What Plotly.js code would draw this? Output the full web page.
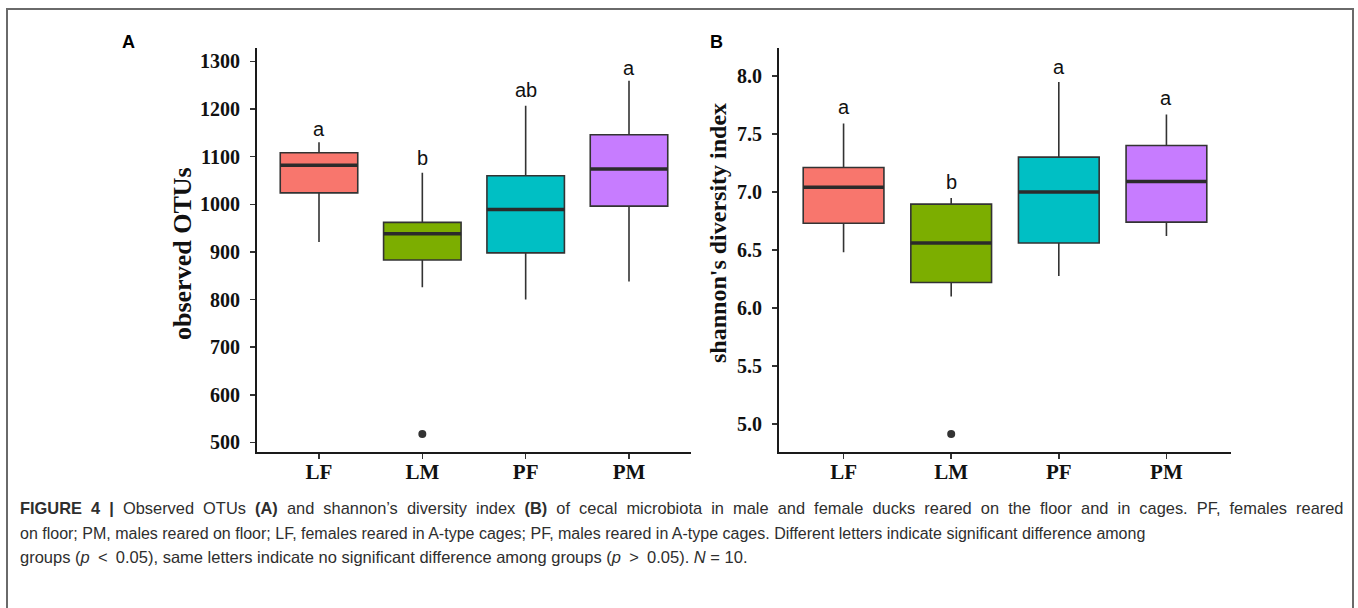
<!DOCTYPE html>
<html>
<head>
<meta charset="utf-8">
<script src="https://cdn.plot.ly/plotly-3.0.1.min.js"></script>
<style>
html,body{margin:0;padding:0;background:#fff;}
#chart{width:1358px;height:608px;}
</style>
</head>
<body>
<div id="chart"></div>
<script>
// ---- data ----
const groups = ['LF', 'LM', 'PF', 'PM'];
const groupColors = ['#F8766D', '#7CAE00', '#00BFC4', '#C77CFF'];

// Panel A: observed OTUs
const otuLower  = [921, 826, 800, 838];
const otuQ1     = [1024, 883, 898, 996];
const otuMedian = [1082, 938, 989, 1074];
const otuQ3     = [1108, 962, 1060, 1146];
const otuUpper  = [1130, 1066, 1207, 1259];
const otuOutlierGroup = [1];
const otuOutlierValue = [518];
const otuLetters = ['a', 'b', 'ab', 'a'];
const otuLetterPos = [1157, 1097, 1239, 1287];

// Panel B: shannon's diversity index
const shLower  = [6.48, 6.10, 6.275, 6.62];
const shQ1     = [6.73, 6.22, 6.56, 6.74];
const shMedian = [7.04, 6.56, 7.00, 7.09];
const shQ3     = [7.21, 6.895, 7.30, 7.40];
const shUpper  = [7.59, 6.947, 7.948, 7.668];
const shOutlierGroup = [1];
const shOutlierValue = [4.915];
const shLetters = ['a', 'b', 'a', 'a'];
const shLetterPos = [7.73, 7.09, 8.08, 7.81];

const otuTicks = [500, 600, 700, 800, 900, 1000, 1100, 1200, 1300];
const shTicks = [5.0, 5.5, 6.0, 6.5, 7.0, 7.5, 8.0];
const shTickText = ['5.0', '5.5', '6.0', '6.5', '7.0', '7.5', '8.0'];

const captionLines = [
  "<b>FIGURE 4 |</b> Observed OTUs <b>(A)</b> and shannon’s diversity index <b>(B)</b> of cecal microbiota in male and female ducks reared on the floor and in cages. PF, females reared",
  "on floor; PM, males reared on floor; LF, females reared in A-type cages; PF, males reared in A-type cages. Different letters indicate significant difference among",
  "groups (<i>p</i>\u2002&lt;\u20020.05), same letters indicate no significant difference among groups (<i>p</i>\u2002&gt;\u20020.05). <i>N</i> = 10."
];
const captionJustified = [true, false, false];

// ---- build ----
const W = 1358, H = 608;
const px = v => v / W;
const py = v => 1 - v / H;
const boxW = 0.75;
const lineCol = '#333333';

const traces = [];
function addPanel(xa, ya, lower, q1, med, q3, upper, oGroup, oVal) {
  groups.forEach((g, i) => {
    traces.push({
      type: 'box', xaxis: xa, yaxis: ya, name: g,
      x: [i], q1: [q1[i]], median: [med[i]], q3: [q3[i]],
      lowerfence: [lower[i]], upperfence: [upper[i]],
      width: boxW, whiskerwidth: 0, boxpoints: false,
      fillcolor: groupColors[i],
      line: {color: lineCol, width: 1.6},
      hoverinfo: 'skip', showlegend: false
    });
    traces.push({
      type: 'scatter', mode: 'lines', xaxis: xa, yaxis: ya,
      x: [i - boxW / 2, i + boxW / 2], y: [med[i], med[i]],
      line: {color: '#2b2b2b', width: 3.6},
      hoverinfo: 'skip', showlegend: false
    });
  });
  traces.push({
    type: 'scatter', mode: 'markers', xaxis: xa, yaxis: ya,
    x: oGroup, y: oVal,
    marker: {color: '#333333', size: 8},
    hoverinfo: 'skip', showlegend: false
  });
}
addPanel('x', 'y', otuLower, otuQ1, otuMedian, otuQ3, otuUpper, otuOutlierGroup, otuOutlierValue);
addPanel('x2', 'y2', shLower, shQ1, shMedian, shQ3, shUpper, shOutlierGroup, shOutlierValue);

const tickFont = {family: 'Liberation Serif, Times New Roman, serif', size: 20, color: '#111'};
const xBase = {
  range: [-0.6, 3.6], tickvals: [0, 1, 2, 3], ticktext: groups,
  showline: true, linecolor: '#1a1a1a', linewidth: 2,
  ticks: 'outside', ticklen: 5, tickwidth: 1.5, tickcolor: '#333',
  showgrid: false, zeroline: false, fixedrange: true,
  ticklabelstandoff: -5,
  tickfont: Object.assign({}, tickFont, {size: 21, weight: 'bold'})
};
const yBase = {
  showline: true, linecolor: '#1a1a1a', linewidth: 2,
  ticks: 'outside', ticklen: 5, tickwidth: 1.5, tickcolor: '#333',
  showgrid: false, zeroline: false, fixedrange: true,
  ticklabelstandoff: 6,
  tickfont: Object.assign({}, tickFont, {weight: 'bold'})
};

const yDom = [py(452), py(48)];
const layout = {
  width: W, height: H,
  margin: {l: 0, r: 0, t: 0, b: 0},
  paper_bgcolor: '#ffffff', plot_bgcolor: '#ffffff',
  showlegend: false, boxmode: 'overlay',
  xaxis: Object.assign({}, xBase, {domain: [px(257), px(691)], anchor: 'y'}),
  yaxis: Object.assign({}, yBase, {domain: yDom, anchor: 'x', range: [480, 1328], tickvals: otuTicks}),
  xaxis2: Object.assign({}, xBase, {domain: [px(779), px(1231)], anchor: 'y2'}),
  yaxis2: Object.assign({}, yBase, {domain: yDom, anchor: 'x2', range: [4.76, 8.24], tickvals: shTicks, ticktext: shTickText}),
  shapes: [
    {type: 'rect', xref: 'paper', yref: 'paper', x0: px(7), x1: px(1353), y0: -0.1, y1: py(9),
     line: {color: '#6a6a6a', width: 2}, fillcolor: 'rgba(0,0,0,0)'}
  ],
  annotations: []
};

const ann = layout.annotations;
ann.push({xref: 'paper', yref: 'paper', x: px(128), y: py(42), text: '<b>A</b>', showarrow: false,
  xanchor: 'center', yanchor: 'middle', font: {family: 'Liberation Sans, Arial, sans-serif', size: 18, color: '#000'}});
ann.push({xref: 'paper', yref: 'paper', x: px(716), y: py(42), text: '<b>B</b>', showarrow: false,
  xanchor: 'center', yanchor: 'middle', font: {family: 'Liberation Sans, Arial, sans-serif', size: 18, color: '#000'}});

ann.push({xref: 'paper', yref: 'paper', x: px(182), y: py(254), text: '<b>observed OTUs</b>', textangle: -90, showarrow: false,
  xanchor: 'center', yanchor: 'middle', font: {family: 'Liberation Serif, Times New Roman, serif', size: 26, color: '#111'}});
ann.push({xref: 'paper', yref: 'paper', x: px(718), y: py(233), text: '<b>shannon\'s diversity index</b>', textangle: -90, showarrow: false,
  xanchor: 'center', yanchor: 'middle', font: {family: 'Liberation Serif, Times New Roman, serif', size: 24, color: '#111'}});

groups.forEach((g, i) => {
  ann.push({xref: 'x', yref: 'y', x: i, y: otuLetterPos[i], text: otuLetters[i], showarrow: false,
    xanchor: 'center', yanchor: 'middle', font: {family: 'Liberation Sans, Arial, sans-serif', size: 20, color: '#111'}});
  ann.push({xref: 'x2', yref: 'y2', x: i, y: shLetterPos[i], text: shLetters[i], showarrow: false,
    xanchor: 'center', yanchor: 'middle', font: {family: 'Liberation Sans, Arial, sans-serif', size: 20, color: '#111'}});
});

const capY = [508, 533, 557];
const capSize = [16.4, 16.0, 16.5];
captionLines.forEach((t, k) => {
  // justified line: widen each word gap with an extra non-breaking space
  const txt = captionJustified[k] ? t.replace(/ (?![^<]*>)/g, ' \u00A0') : t;
  ann.push({xref: 'paper', yref: 'paper', x: px(18), y: py(capY[k]), text: txt, showarrow: false,
    xanchor: 'left', yanchor: 'middle', align: 'left',
    font: {family: 'Liberation Sans, Arial, sans-serif', size: capSize[k], color: '#2e2e2e'}});
});

Plotly.newPlot('chart', traces, layout, {staticPlot: true, displayModeBar: false});
</script>
</body>
</html>
